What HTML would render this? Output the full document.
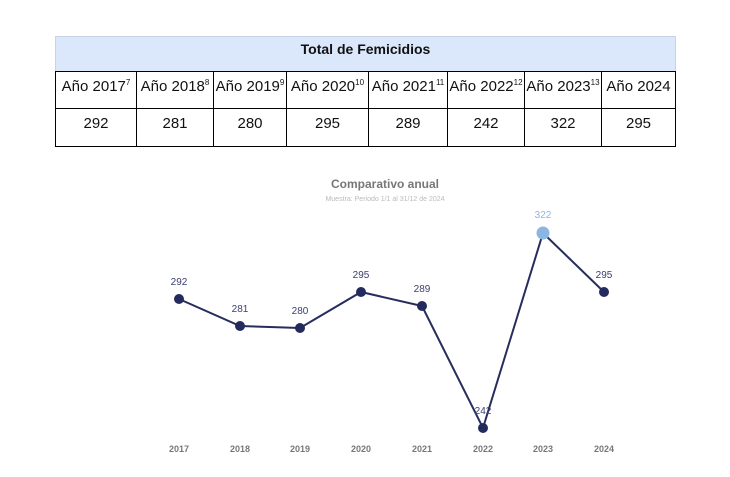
<!DOCTYPE html><html><head><style>
body{margin:0;width:730px;height:477px;background:#fff;font-family:"Liberation Sans",sans-serif;position:relative}
table{position:absolute;left:55px;top:36px;border-collapse:collapse;width:621px}
td{border:1px solid #000;text-align:center;font-size:15px;color:#111;padding:0;vertical-align:top}
.h td{background:#dbe7fb;font-weight:bold;font-size:14px;border-color:#c8d3e6 #c8d3e6 #000 #c8d3e6;padding-top:4px;height:30px}
.y td{height:30px;padding-top:6px}
.v td{height:31px;padding-top:6px}
sup{font-size:8px;vertical-align:6px}
</style></head><body>
<table>
<tr class="h"><td colspan="8">Total de Femicidios</td></tr>
<tr class="y"><td style="width:80px">Año 2017<sup>7</sup></td><td style="width:76px">Año 2018<sup>8</sup></td><td style="width:72px">Año 2019<sup>9</sup></td><td style="width:81px">Año 2020<sup>10</sup></td><td style="width:78px">Año 2021<sup>11</sup></td><td style="width:76px">Año 2022<sup>12</sup></td><td style="width:76px">Año 2023<sup>13</sup></td><td>Año 2024</td></tr>
<tr class="v"><td>292</td><td>281</td><td>280</td><td>295</td><td>289</td><td>242</td><td>322</td><td>295</td></tr>
</table>
<svg width="730" height="477" style="position:absolute;left:0;top:0" font-family="Liberation Sans, sans-serif">
<text x="385" y="188" text-anchor="middle" font-size="12" font-weight="bold" fill="#777">Comparativo anual</text>
<text x="385" y="201" text-anchor="middle" font-size="7" fill="#bbb">Muestra: Periodo 1/1 al  31/12 de 2024</text>
<polyline points="179,299 240,326 300,328 361,292 422,306 483,428 543,233 604,292" fill="none" stroke="#262d5e" stroke-width="2"/>
<g fill="#232a5c"><circle cx="179" cy="299" r="5"/><circle cx="240" cy="326" r="5"/><circle cx="300" cy="328" r="5"/><circle cx="361" cy="292" r="5"/><circle cx="422" cy="306" r="5"/><circle cx="483" cy="428" r="5"/><circle cx="604" cy="292" r="5"/></g>
<circle cx="543" cy="233" r="6.5" fill="#8db5e2"/>
<g font-size="10" fill="#3a4070" text-anchor="middle">
<text x="179" y="285">292</text><text x="240" y="312">281</text><text x="300" y="314">280</text><text x="361" y="278">295</text><text x="422" y="292">289</text><text x="483" y="414">242</text><text x="543" y="218" fill="#8db5e2">322</text><text x="604" y="278">295</text></g>
<g font-size="9" font-weight="bold" fill="#777" text-anchor="middle">
<text x="179" y="452">2017</text><text x="240" y="452">2018</text><text x="300" y="452">2019</text><text x="361" y="452">2020</text><text x="422" y="452">2021</text><text x="483" y="452">2022</text><text x="543" y="452">2023</text><text x="604" y="452">2024</text></g>
</svg>
</body></html>
